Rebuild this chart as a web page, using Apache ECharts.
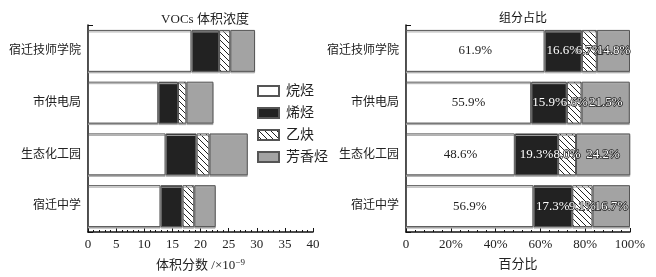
<!DOCTYPE html>
<html><head><meta charset="utf-8">
<script src="https://cdn.jsdelivr.net/npm/echarts@6/dist/echarts.min.js"></script>
<style>html,body{margin:0;padding:0;background:#fff}#c{width:656px;height:277px}</style>
</head><body><div id="c"></div>
<script>
const categories = ['宿迁技师学院', '市供电局', '生态化工园', '宿迁中学'];
const seriesNames = ['烷烃', '烯烃', '乙炔', '芳香烃'];
// volume fraction ×10^-9
const alkane  = [18.4, 12.5, 13.8, 12.9];
const alkene  = [4.9, 3.5, 5.5, 3.9];
const alkyne  = [2.0, 1.5, 2.3, 2.1];
const aromatic = [4.4, 4.8, 6.8, 3.8];
// composition share %
const pAlkane  = [61.9, 55.9, 48.6, 56.9];
const pAlkene  = [16.6, 15.9, 19.3, 17.3];
const pAlkyne  = [6.7, 6.6, 8.0, 9.1];
const pAromatic = [14.8, 21.5, 24.2, 16.7];
const leftTicks = [0, 5, 10, 15, 20, 25, 30, 35, 40];
const rightTicks = ['0', '20%', '40%', '60%', '80%', '100%'];

const FONT = '"Liberation Serif", "Noto Sans CJK SC", serif';
const hatch = document.createElement('canvas');
hatch.width = 6; hatch.height = 6;
(function(){
  const g = hatch.getContext('2d');
  g.fillStyle = '#fff'; g.fillRect(0,0,6,6);
  g.strokeStyle = '#222'; g.lineWidth = 1;
  g.beginPath();
  g.moveTo(-1,-1); g.lineTo(7,7);
  g.moveTo(-1,5); g.lineTo(1,7);
  g.moveTo(5,-1); g.lineTo(7,1);
  g.stroke();
})();
const fills = ['#ffffff', '#222222', {image: hatch, repeat: 'repeat'}, '#a3a3a3'];

const chart = echarts.init(document.getElementById('c'), null, {renderer: 'canvas'});

function xAxisCfg(gridIndex, isPct) {
  return {
    type: 'value', gridIndex, min: 0, max: isPct ? 100 : 40, interval: isPct ? 20 : 5,
    axisLine: {show: true, lineStyle: {color: '#111', width: 1.5}},
    axisTick: {show: true, inside: true, length: 4, lineStyle: {color: '#111'}},
    minorTick: {show: true, splitNumber: 5, length: 2, lineStyle: {color: '#111'}},
    splitLine: {show: false},
    axisLabel: {
      color: '#222', fontFamily: FONT, fontSize: 13, margin: 6,
      formatter: isPct ? (v) => rightTicks[v / 20] : (v) => String(leftTicks[v / 5])
    },
    name: isPct ? '百分比' : '体积分数 /×10{sup|−9}',
    nameLocation: 'middle', nameGap: 26,
    nameTextStyle: {color: '#222', fontFamily: FONT, fontSize: 13,
      rich: {sup: {fontSize: 9, verticalAlign: 'top', color: '#222', fontFamily: FONT, padding: [0,0,6,0]}}}
  };
}
function yAxisCfg(gridIndex) {
  return {
    type: 'category', gridIndex, data: categories, inverse: true,
    axisLine: {show: true, lineStyle: {color: '#111', width: 1.5}},
    axisTick: {show: true, inside: true, length: 5, lineStyle: {color: '#111'},
      interval: (idx) => idx === 0},
    axisLabel: {color: '#222', fontFamily: FONT, fontSize: 12, margin: 7}
  };
}

const leftData = [alkane, alkene, alkyne, aromatic];
const rightData = [pAlkane, pAlkene, pAlkyne, pAromatic];
const baseItem = (i) => ({color: fills[i], borderColor: '#555', borderWidth: 1,
  shadowColor: '#aaa', shadowOffsetY: 1.5, shadowBlur: 0});
const series = [];
seriesNames.forEach((n, i) => {
  series.push({
    name: n, type: 'bar', stack: 'L', xAxisIndex: 0, yAxisIndex: 0,
    data: leftData[i], barCategoryGap: '19%',
    itemStyle: baseItem(i),
    emphasis: {disabled: true}
  });
});
seriesNames.forEach((n, i) => {
  series.push({
    name: n, type: 'bar', stack: 'R', xAxisIndex: 1, yAxisIndex: 1,
    data: rightData[i], barCategoryGap: '19%',
    itemStyle: baseItem(i),
    label: {
      show: true, position: 'inside', fontFamily: FONT, fontSize: 13,
      formatter: (p) => p.value.toFixed(1) + '%',
      color: i === 0 ? '#222' : '#fff',
      textBorderColor: i === 0 ? 'transparent' : '#222', textBorderWidth: i === 0 ? 0 : 1.5
    },
    labelLayout: {hideOverlap: false},
    emphasis: {disabled: true}
  });
});

chart.setOption({
  animation: false,
  backgroundColor: '#fff',
  title: [
    {text: 'VOCs 体积浓度', left: 200, top: 8, textAlign: 'center',
     textStyle: {fontFamily: FONT, fontSize: 13, fontWeight: 'normal', color: '#222'}},
    {text: '组分占比', left: 518, top: 8, textAlign: 'center',
     textStyle: {fontFamily: FONT, fontSize: 12, fontWeight: 'normal', color: '#111'}}
  ],
  legend: {
    orient: 'vertical', left: 252, top: 79, itemWidth: 21, itemHeight: 10, itemGap: 8,
    data: seriesNames, icon: 'rect', selectedMode: false,
    itemStyle: {shadowColor: 'transparent', shadowOffsetY: 0},
    textStyle: {fontFamily: FONT, fontSize: 14, color: '#222', padding: [0,0,0,2]}
  },
  grid: [
    {left: 88, right: 343, top: 25, bottom: 45},
    {left: 406, right: 26, top: 25, bottom: 45}
  ],
  xAxis: [xAxisCfg(0, false), xAxisCfg(1, true)],
  yAxis: [yAxisCfg(0), yAxisCfg(1)],
  series
});
</script></body></html>
